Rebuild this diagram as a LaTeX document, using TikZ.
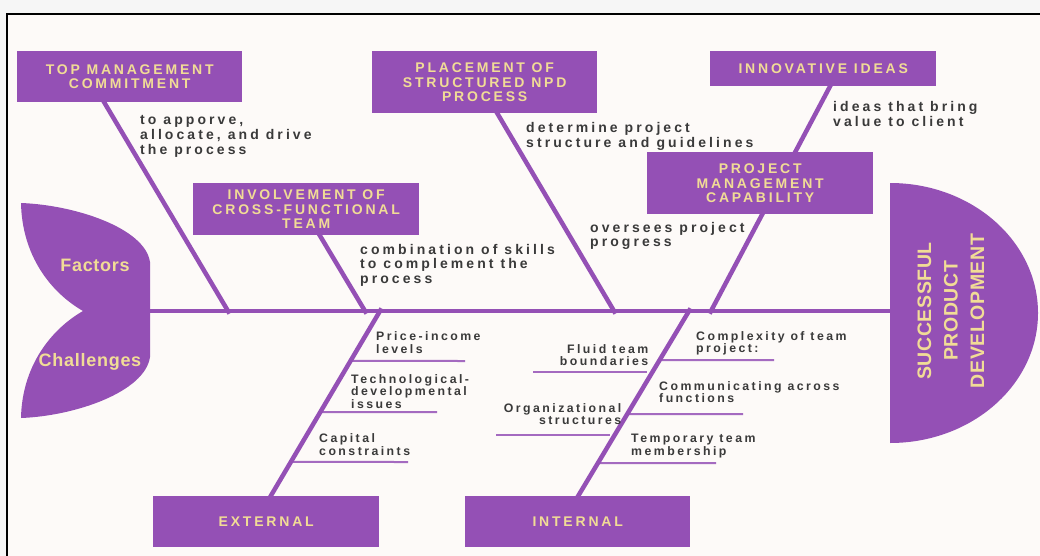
\documentclass[tikz,border=0pt]{standalone}
\usepackage{fontspec}
\setmainfont{Liberation Sans}
\newfontfamily\trackfont[LetterSpace=20]{Liberation Sans}
\newfontfamily\notefont[LetterSpace=22]{Liberation Sans}
\newfontfamily\headfont[LetterSpace=3]{Liberation Sans}
\newfontfamily\lobefont[LetterSpace=4]{Liberation Sans}
\usetikzlibrary{calc}

\pgfdeclarelayer{sheet}
\pgfdeclarelayer{skeleton}
\pgfsetlayers{sheet,skeleton,main}

\definecolor{fishpurple}{RGB}{148,80,181}
\definecolor{titleyellow}{RGB}{241,220,150}
\definecolor{notegray}{RGB}{58,58,58}
\definecolor{paper}{RGB}{253,250,248}
\definecolor{outerband}{RGB}{246,246,246}

\tikzset{
  catbox/.style={fill=fishpurple, text=titleyellow, align=center, inner sep=0pt,
    font=\trackfont\bfseries\fontsize{14}{14.4}\selectfont, anchor=north west},
  note/.style={text=notegray, align=left, inner sep=0pt, anchor=base west,
    font=\notefont\bfseries\fontsize{14}{14.5}\selectfont},
  cause/.style={text=notegray, align=left, inner sep=0pt, anchor=base west,
    font=\trackfont\bfseries\fontsize{12.3}{12.4}\selectfont},
  causeR/.style={cause, align=right, anchor=base east},
  lobetext/.style={text=titleyellow, inner sep=0pt, anchor=base,
    font=\lobefont\bfseries\fontsize{18}{18}\selectfont},
  headtext/.style={text=titleyellow, inner sep=0pt, align=center, rotate=90,
    font=\headfont\bfseries\fontsize{19.5}{26.5}\selectfont},
  bone/.style={draw=fishpurple, line width=4.5pt, shorten <=-5pt, shorten >=-3pt},
  spine/.style={draw=fishpurple, line width=4pt},
  rib/.style={draw=fishpurple!85!white, line width=2pt},
}

\begin{document}
\begin{tikzpicture}[x=1pt,y=-1pt]
\useasboundingbox (0,0) rectangle (1040,556);

% sheet and its frame
\begin{pgfonlayer}{sheet}
\fill[outerband] (0,0) rectangle (1040,556);
\fill[paper] (7,14) rectangle (1040,556);
\draw[black, line width=1.6pt] (7,556) -- (7,14) -- (1040,14);
\end{pgfonlayer}

% category boxes
\node[catbox, minimum width=225pt, minimum height=51pt] (tmc) at (17,51) {TOP MANAGEMENT\\COMMITMENT};
\node[catbox, minimum width=225pt, minimum height=62pt] (npd) at (372,51) {PLACEMENT OF\\STRUCTURED NPD\\PROCESS};
\node[catbox, minimum width=226pt, minimum height=35pt] (inn) at (710,51) {INNOVATIVE IDEAS};
\node[catbox, minimum width=226pt, minimum height=62pt] (pmc) at (647,152) {PROJECT\\MANAGEMENT\\CAPABILITY};
\node[catbox, minimum width=226pt, minimum height=52pt] (cft) at (193,183) {INVOLVEMENT OF\\CROSS-FUNCTIONAL\\TEAM};
\node[catbox, minimum width=226pt, minimum height=51pt] (ext) at (153,496) {EXTERNAL};
\node[catbox, minimum width=225pt, minimum height=51pt] (int) at (465,496) {INTERNAL};

% spine end points and bone junctions
\coordinate (tailR) at (150,311);
\coordinate (headL) at (890,311);
\coordinate (j1) at (228,311);
\coordinate (j2) at (365,311);
\coordinate (j3) at (614,311);
\coordinate (j4) at (711,311);
\coordinate (j5) at (380,311);
\coordinate (j6) at (689,311);
\coordinate (extT) at ($(ext.north west)!0.52!(ext.north east)$);
\coordinate (intT) at ($(int.north west)!0.502!(int.north east)$);

% free ends of the ribs
\coordinate (r1) at (465,361);
\coordinate (r2) at (437,412);
\coordinate (r3) at (408,462);
\coordinate (r4) at (774,360);
\coordinate (r5) at (743,414);
\coordinate (r6) at (716,463);
\coordinate (l1a) at (533,372);
\coordinate (l1b) at (647,372);
\coordinate (l2a) at (496,435);
\coordinate (l2b) at (610,435);

\begin{pgfonlayer}{skeleton}
% ribs under the lower bones
\draw[rib] ($(j5)!0.270!(extT)$) -- (r1);
\draw[rib] ($(j5)!0.546!(extT)$) -- (r2);
\draw[rib] ($(j5)!0.816!(extT)$) -- (r3);
\draw[rib] ($(j6)!0.265!(intT)$) -- (r4);
\draw[rib] ($(j6)!0.557!(intT)$) -- (r5);
\draw[rib] ($(j6)!0.822!(intT)$) -- (r6);
\draw[rib] (l1a) -- (l1b);
\draw[rib] (l2a) -- (l2b);

% bones
\draw[bone] ($(tmc.south west)!0.387!(tmc.south east)$) -- (j1);
\draw[bone] ($(cft.south west)!0.56!(cft.south east)$) -- (j2);
\draw[bone] ($(npd.south west)!0.556!(npd.south east)$) -- (j3);
\draw[bone] ($(inn.south west)!0.53!(inn.south east)$) -- (j4);
\draw[bone, shorten <=-3pt, shorten >=-5pt] (j5) -- (extT);
\draw[bone, shorten <=-3pt, shorten >=-5pt] (j6) -- (intT);

% spine
\draw[spine] (tailR) -- (headL);
\end{pgfonlayer}

% fish tail
\fill[fishpurple] (150,262) -- (150,357)
  .. controls (145,392) and (75,416) .. (21,418)
  .. controls (22,367) and (50,330) .. (83,311)
  .. controls (50,292) and (22,255) .. (21,203)
  .. controls (75,205) and (145,228) .. (150,262) -- cycle;
\node[lobetext] (factors) at (95,271.7) {Factors};
\node[lobetext] (challenges) at (90,366.7) {Challenges};

% fish head
\fill[fishpurple] (890,443) arc[start angle=90, end angle=-90, x radius=148, y radius=130] -- cycle;
\node[headtext] (goal) at (951,311) {SUCCESSFUL\\PRODUCT\\DEVELOPMENT};

% notes on the upper bones (placed by the baseline of their last line)
\node[note] (n1) at (140,154) {to apporve,\\allocate, and drive\\the process};
\node[note] (n2) at (360,283.3) {combination of skills\\to complement the\\process};
\node[note] (n3) at (526,147.2) {determine project\\structure and guidelines};
\node[note] (n4) at (590,246.8) {oversees project\\progress};
\node[note] (n5) at (833,126.2) {ideas that bring\\value to client};

% causes on the lower bones
\node[cause] (c1) at (376,353.1) {Price-income\\levels};
\node[cause] (c2) at (351,408.1) {Technological-\\developmental\\issues};
\node[cause] (c3) at (319,455.1) {Capital\\constraints};
\node[causeR] (c4) at (648.5,365.7) {Fluid team\\boundaries};
\node[causeR] (c5) at (621.5,424.4) {Organizational\\structures};
\node[cause] (c6) at (696,352.4) {Complexity of team\\project:};
\node[cause] (c7) at (659,402.4) {Communicating across\\functions};
\node[cause] (c8) at (631,455.1) {Temporary team\\membership};
\end{tikzpicture}
\end{document}
